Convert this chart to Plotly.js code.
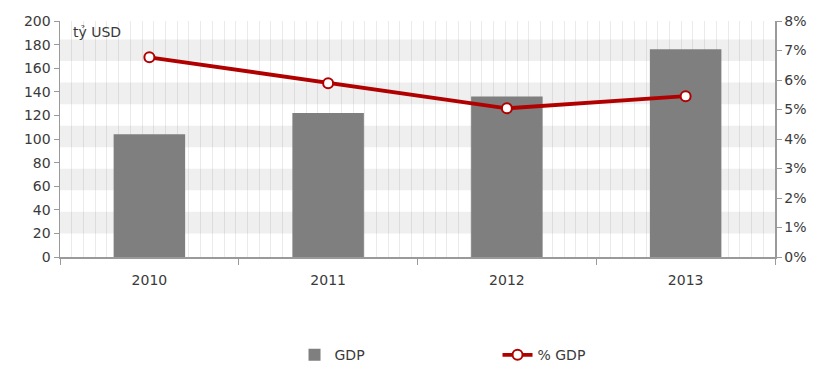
<!DOCTYPE html>
<html>
<head>
<meta charset="utf-8">
<script src="https://cdn.plot.ly/plotly-3.0.1.min.js"></script>
<style>html,body{margin:0;padding:0;background:#fff;}#chart{width:817px;height:367px;}</style>
</head>
<body>
<div id="chart"></div>
<script>
const years = ['2010', '2011', '2012', '2013'];
const gdp = [104, 122, 136, 176];
const pctGdp = [0.0677, 0.0589, 0.0504, 0.0545];
const leftTicks = [0, 20, 40, 60, 80, 100, 120, 140, 160, 180, 200];

const FONT = 'DejaVu Sans';
const TXT = '#3a3a3a';

// decorative horizontal bands of the plot background
const shapes = [];
for (let b = 20; b < 200; b += 36.5) {
  shapes.push({type: 'rect', xref: 'paper', yref: 'y', x0: 0, x1: 1, y0: b, y1: b + 18.3,
    fillcolor: '#efefef', line: {width: 0}, layer: 'below'});
}

const traces = [
  {type: 'bar', name: 'GDP', x: years, y: gdp, marker: {color: '#7f7f7f'}, width: 0.4, hoverinfo: 'skip'},
  {type: 'scatter', mode: 'lines+markers', name: '% GDP', x: years, y: pctGdp, yaxis: 'y2',
   line: {color: '#b00000', width: 3.8},
   marker: {size: 10, color: '#ffffff', line: {color: '#b00000', width: 2}}, hoverinfo: 'skip'},
  // helper so the fine vertical background grid axis is drawn
  {type: 'scatter', mode: 'markers', x: [0], y: [0], xaxis: 'x2', yaxis: 'y',
   marker: {opacity: 0, size: 1}, showlegend: false, hoverinfo: 'skip'}
];

const layout = {
  width: 817, height: 367,
  margin: {l: 60, r: 42, t: 21, b: 110},
  paper_bgcolor: '#ffffff', plot_bgcolor: '#ffffff',
  font: {family: FONT, size: 14, color: TXT},
  showlegend: true,
  xaxis: {
    type: 'category', tickson: 'boundaries', ticks: 'outside', ticklen: 6, tickcolor: '#9a9a9a',
    showline: true, linecolor: '#9a9a9a', linewidth: 1.5, showgrid: false, ticklabelstandoff: 10,
    tickfont: {family: FONT, size: 14, color: TXT}
  },
  xaxis2: {
    overlaying: 'x', range: [0, 61], dtick: 1, showgrid: true, gridcolor: 'rgba(0,0,0,0.08)', gridwidth: 1,
    showticklabels: false, zeroline: false, showline: false, ticks: '', fixedrange: true
  },
  yaxis: {
    range: [0, 200], tickvals: leftTicks, ticks: 'outside', ticklen: 5, tickcolor: '#9a9a9a',
    showline: true, linecolor: '#9a9a9a', linewidth: 1.5, showgrid: false, zeroline: false,
    tickfont: {family: FONT, size: 14, color: TXT}
  },
  yaxis2: {
    overlaying: 'y', side: 'right', range: [0, 0.08], dtick: 0.01, tickformat: '.0%',
    ticks: 'outside', ticklen: 5, tickcolor: '#9a9a9a',
    showline: true, linecolor: '#9a9a9a', linewidth: 1.5, showgrid: false, zeroline: false,
    tickfont: {family: FONT, size: 14, color: TXT}
  },
  legend: {
    orientation: 'h', x: 0.328, xanchor: 'left', xref: 'paper',
    y: 0.032, yanchor: 'middle', yref: 'container',
    entrywidth: 158, entrywidthmode: 'pixels',
    font: {family: FONT, size: 14, color: TXT}, bgcolor: 'rgba(0,0,0,0)'
  },
  shapes: shapes,
  annotations: [{
    text: 'tỷ USD', xref: 'paper', yref: 'paper', x: 0.015, y: 0.995, xanchor: 'left', yanchor: 'top',
    showarrow: false, font: {family: FONT, size: 14, color: TXT}
  }]
};

Plotly.newPlot('chart', traces, layout, {displayModeBar: false, staticPlot: true});
</script>
</body>
</html>
